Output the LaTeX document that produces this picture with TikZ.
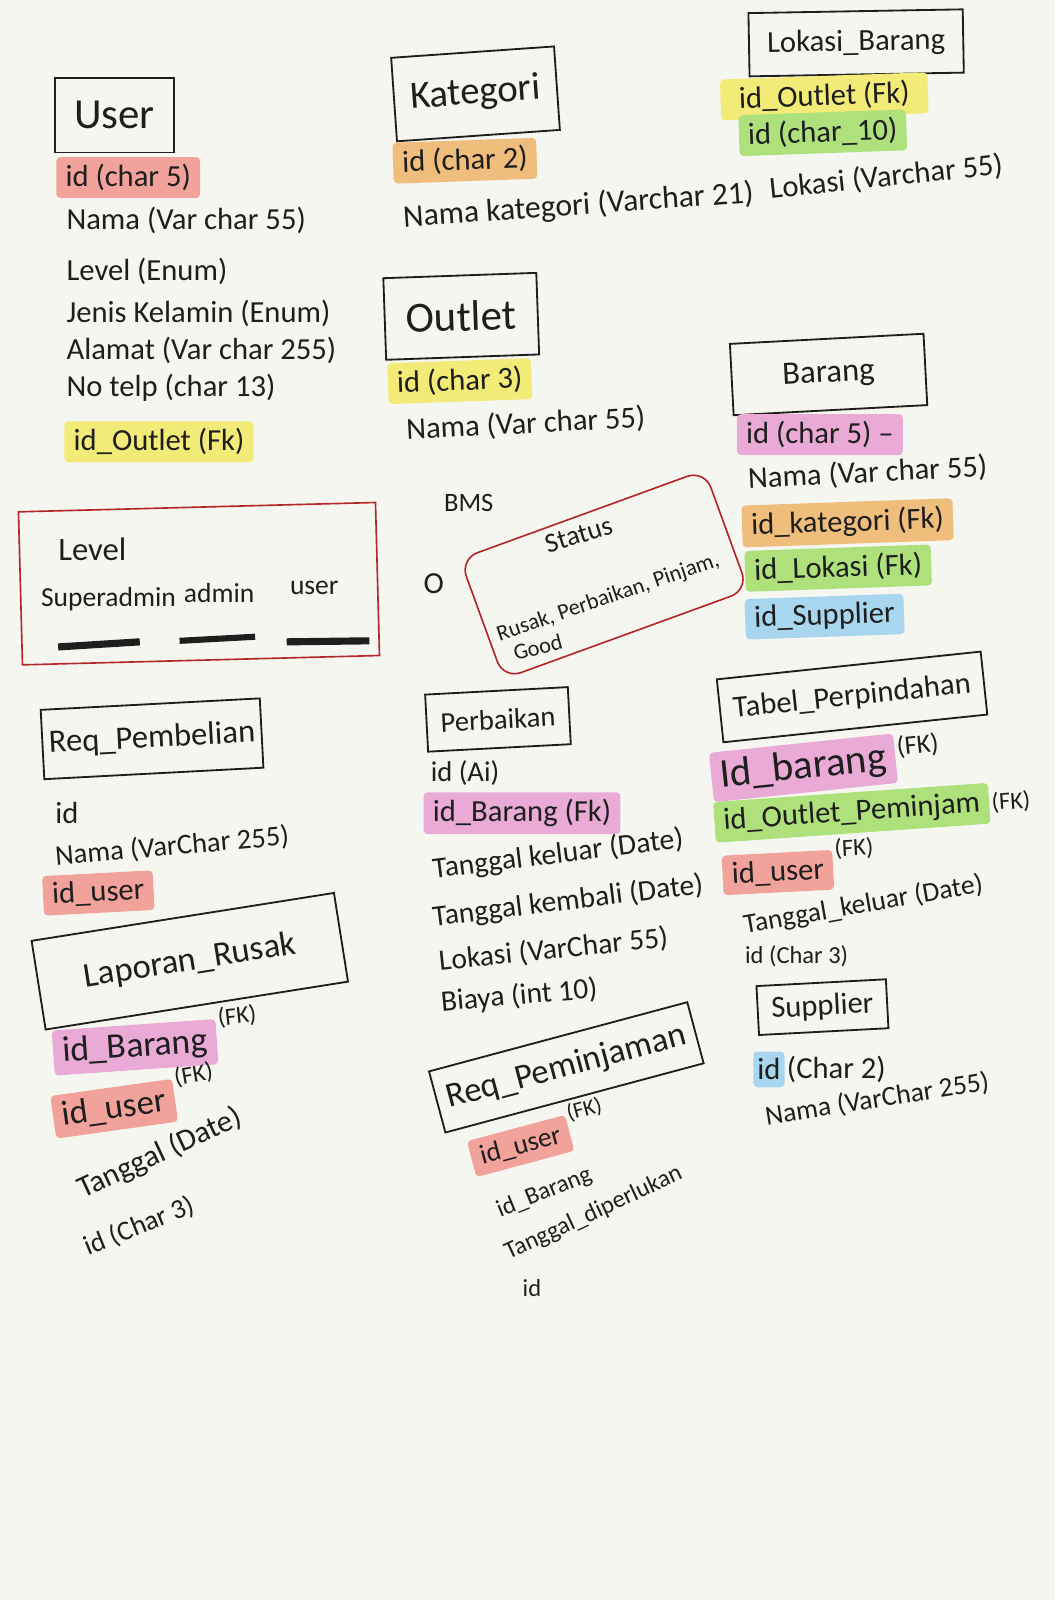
\documentclass[tikz,border=0pt]{standalone}
\usepackage{fontspec}
\setmainfont{Carlito}
\usetikzlibrary{positioning,calc}
\definecolor{paper}{HTML}{F6F6F1}
\definecolor{ink}{HTML}{1E1E1E}
\definecolor{boxred}{HTML}{B3262A}
\definecolor{hlred}{HTML}{F1A29B}
\definecolor{hlyellow}{HTML}{F2EB78}
\definecolor{hlorange}{HTML}{F0BE7C}
\definecolor{hlgreen}{HTML}{AEE07C}
\definecolor{hlpink}{HTML}{E9AAD6}
\definecolor{hlblue}{HTML}{A8D6EE}
\newcommand\fsz[1]{\fontsize{#1}{#1}\selectfont}

\begin{document}
\begin{tikzpicture}[x=1pt,y=-1pt,
    tbl/.style={draw=ink,line width=1.8pt,text=ink,inner sep=4pt,font=\fsz{32}},
    fld/.style={anchor=west,inner sep=2pt,text=ink,font=\fsz{30}},
    hl/.style={fld,inner xsep=9pt,inner ysep=7pt,rounded corners=4pt},
    fk/.style={fld,font=\fsz{22}},
    lvbox/.style={draw=boxred,line width=1.6pt}
  ]
    \fill[paper] (0,0) rectangle (1034,1568);
    \useasboundingbox (0,0) rectangle (1034,1568);

    % User
    \node[tbl,minimum width=117,minimum height=73,font=\fsz{42}] (user) at (112,113) {User};
    \node[hl,fill=hlred] (userid) at (55,174) {id (char 5)};
    \node[fld] (usernama) at (63,216) {Nama (Var char 55)};
    \node[fld] (userlevel) at (63,266) {Level (Enum)};
    \node[fld] (userjk) at (63,307) {Jenis Kelamin (Enum)};
    \node[fld] (useralamat) at (63,343) {Alamat (Var char 255)};
    \node[fld] (usertelp) at (63,380) {No telp (char 13)};
    \node[hl,fill=hlyellow] (useroutlet) at (63,433) {id\_Outlet (Fk)};

    % Kategori
    \node[tbl,rotate=4,minimum width=160,minimum height=82,font=\fsz{38}] (kategori) at (466,92) {Kategori};
    \node[hl,fill=hlorange,rotate=2] (katid) at (385,160) {id (char 2)};
    \node[fld,rotate=4,font=\fsz{31}] (katnama) at (393,214) {Nama kategori (Varchar 21)};

    % Lokasi_Barang
    \node[tbl,rotate=1,minimum width=210,minimum height=62,font=\fsz{30}] (lokasi) at (839,42) {Lokasi\_Barang};
    \node[hl,fill=hlyellow,rotate=2,inner xsep=18pt] (lokoutlet) at (706,98) {id\_Outlet (Fk)};
    \node[hl,fill=hlgreen,rotate=2] (lokid) at (724,133) {id (char\_10)};
    \node[fld,rotate=6] (loknama) at (752,186) {Lokasi (Varchar 55)};

    % Outlet
    \node[tbl,rotate=2,minimum width=150,minimum height=80,font=\fsz{42}] (outlet) at (452,310) {Outlet};
    \node[hl,fill=hlyellow,rotate=2] (outletid) at (380,376) {id (char 3)};
    \node[fld,rotate=3] (outletnama) at (396,422) {Nama (Var char 55)};

    % Barang
    \node[tbl,rotate=3,minimum width=190,minimum height=70,font=\fsz{32}] (barang) at (812,367) {Barang};
    \node[hl,fill=hlpink] (barangid) at (722,426) {id (char 5) –};
    \node[fld,rotate=3] (barangnama) at (731,470) {Nama (Var char 55)};
    \node[hl,fill=hlorange,rotate=2] (barangkat) at (727,516) {id\_kategori (Fk)};
    \node[hl,fill=hlgreen,rotate=2] (baranglok) at (730,560) {id\_Lokasi (Fk)};
    \node[hl,fill=hlblue,rotate=2] (barangsup) at (730,607) {id\_Supplier};

    % Level
    \node[lvbox,rotate=1.5,minimum width=350,minimum height=150] (level) at (195,572) {};
    \node[fld,font=\fsz{32}] (levelname) at (55,538) {Level};
    \node[fld,font=\fsz{27}] (lvsuper) at (38,587) {Superadmin};
    \node[fld,font=\fsz{27}] (lvadmin) at (178,581) {admin};
    \node[fld,font=\fsz{27}] (lvuser) at (282,576) {user};
    \draw[ink,line width=7pt] (57,634) -- (137,629);
    \draw[ink,line width=6pt] (176,628) -- (250,624);
    \draw[ink,line width=7pt] (281,629) -- (362,628);

    % Status
    \node[fld,font=\fsz{26}] (bms) at (433,493) {BMS};
    \node[fld,font=\fsz{30}] (nol) at (413,572) {O};
    \node[lvbox,rounded corners=18pt,rotate=20,minimum width=255,minimum height=125] (status) at (592,563) {};
    \node[text=ink,rotate=17,font=\fsz{27}] (statusname) at (567,524) {Status};
    \node[text=ink,rotate=19,font=\fsz{22}] (statusval) at (596,586) {Rusak, Perbaikan, Pinjam,};
    \node[text=ink,rotate=15,font=\fsz{22}] (statusgood) at (527,634) {Good};

    % Perbaikan
    \node[tbl,rotate=3,minimum width=140,minimum height=56,font=\fsz{28}] (perbaikan) at (488,705) {Perbaikan};
    \node[fld,font=\fsz{28}] (perbid) at (420,758) {id (Ai)};
    \node[hl,fill=hlpink] (perbbarang) at (415,797) {id\_Barang (Fk)};
    \node[fld,rotate=7,font=\fsz{29}] (perbkeluar) at (422,853) {Tanggal keluar (Date)};
    \node[fld,rotate=7,font=\fsz{29}] (perbkembali) at (422,900) {Tanggal kembali (Date)};
    \node[fld,rotate=6,font=\fsz{29}] (perblokasi) at (428,943) {Lokasi (VarChar 55)};
    \node[fld,rotate=5,font=\fsz{29}] (perbbiaya) at (430,983) {Biaya (int 10)};

    % Req_Peminjaman
    \node[tbl,rotate=15,minimum width=262,minimum height=62,font=\fsz{34}] (reqpinjam) at (555,1046) {Req\_Peminjaman};
    \node[hl,fill=hlred,rotate=15,font=\fsz{27}] (pinjamuser) at (462,1136) {id\_user};
    \node[fk,rotate=15] (pinjamfk) at (pinjamuser.north east) {(FK)};
    \node[fld,rotate=22,font=\fsz{24}] (pinjambarang) at (486,1188) {id\_Barang};
    \node[fld,rotate=25,font=\fsz{24}] (pinjamtgl) at (494,1230) {Tanggal\_diperlukan};
    \node[fld,font=\fsz{24}] (pinjamid) at (510,1262) {id};

    % Req_Pembelian
    \node[tbl,rotate=3,minimum width=215,minimum height=68,font=\fsz{32}] (reqbeli) at (149,724) {Req\_Pembelian};
    \node[fld] (beliid) at (52,797) {id};
    \node[fld,rotate=5,font=\fsz{28}] (belinama) at (52,840) {Nama (VarChar 255)};
    \node[hl,fill=hlred,rotate=3] (beliuser) at (42,878) {id\_user};

    % Laporan_Rusak
    \node[tbl,rotate=9,minimum width=300,minimum height=88,font=\fsz{34}] (laporan) at (186,942) {Laporan\_Rusak};
    \node[hl,fill=hlpink,rotate=4,font=\fsz{35}] (lapbarang) at (52,1032) {id\_Barang};
    \node[fk,rotate=6,font=\fsz{24}] (lapbarangfk) at (lapbarang.north east) {(FK)};
    \node[hl,fill=hlred,rotate=8,font=\fsz{34}] (lapuser) at (52,1095) {id\_user};
    \node[fk,rotate=10,font=\fsz{24}] (lapuserfk) at (lapuser.north east) {(FK)};
    \node[fld,rotate=25,font=\fsz{30}] (laptgl) at (76,1168) {Tanggal (Date)};
    \node[fld,rotate=22,font=\fsz{27}] (lapid) at (82,1224) {id (Char 3)};

    % Tabel_Perpindahan
    \node[tbl,rotate=6,minimum width=260,minimum height=62,font=\fsz{30}] (pindah) at (835,683) {Tabel\_Perpindahan};
    \node[hl,fill=hlpink,rotate=6,font=\fsz{40}] (pindahbarang) at (697,762) {Id\_barang};
    \node[fk,rotate=6,font=\fsz{26},yshift=10pt] (pindahbarangfk) at (pindahbarang.east) {(FK)};
    \node[hl,fill=hlgreen,rotate=4] (pindahoutlet) at (700,806) {id\_Outlet\_Peminjam};
    \node[fk,rotate=4,font=\fsz{24}] (pindahoutletfk) at (pindahoutlet.east) {(FK)};
    \node[hl,fill=hlred,rotate=3] (pindahuser) at (708,858) {id\_user};
    \node[fk,rotate=3,font=\fsz{24}] (pindahuserfk) at (pindahuser.north east) {(FK)};
    \node[fld,rotate=10,font=\fsz{27}] (pindahtgl) at (727,908) {Tanggal\_keluar (Date)};
    \node[fld,font=\fsz{24}] (pindahid) at (728,937) {id (Char 3)};

    % Supplier
    \node[tbl,rotate=3,minimum width=127,minimum height=48,font=\fsz{30}] (supplier) at (806,987) {Supplier};
    \node[hl,fill=hlblue,inner xsep=4pt] (supid) at (738,1048) {id};
    \node[fld] (suptype) at (supid.east) {(Char 2)};
    \node[fld,rotate=9,font=\fsz{27}] (supnama) at (748,1095) {Nama (VarChar 255)};
\end{tikzpicture}
\end{document}
